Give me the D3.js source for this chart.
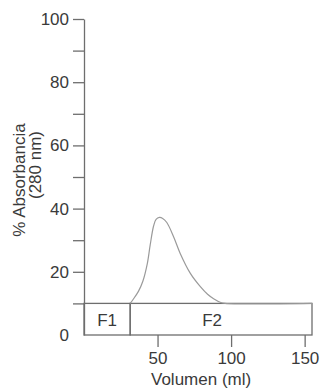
<!DOCTYPE html>
<html>
<head>
<meta charset="utf-8">
<script src="https://cdn.jsdelivr.net/npm/d3@7"></script>
<style>
  body { margin: 0; background: #fff; }
  svg text { font-family: "Liberation Sans", Arial, sans-serif; fill: #3a3a3a; }
</style>
</head>
<body>
<script>
// Elution profile data
var volumen = [31.4, 33, 37, 40, 43, 45, 47.3, 49, 51.3, 53.5, 56.3, 60.9, 65.4, 72.3, 79.1, 84, 88.1, 93, 96, 155];
var absorbancia = [10, 11, 13.8, 17, 22.5, 28.5, 34.5, 36.6, 37.2, 36.9, 35.6, 31.1, 25.8, 19.5, 15.3, 12.9, 11.5, 10.3, 10, 10];

// Fractions (boxes at the bottom)
var fracciones = ["F1", "F2"];
var fracInicio = [0, 31.4];
var fracFin = [31.4, 155];
var fracAltura = 10;

// Axis ticks
var xTicks = [50, 100, 150];
var yTicks = [0, 10, 20, 30, 40, 50, 60, 70, 80, 90, 100];

var width = 320, height = 389;
var plotLeft = 84, plotRight = 312, plotTop = 19, plotBottom = 335;
var axisColor = "#6e6e6e";

var svg = d3.select("body").append("svg")
    .attr("width", width)
    .attr("height", height);

var x = d3.scaleLinear().domain([0, 155]).range([plotLeft, plotRight]);
var y = d3.scaleLinear().domain([0, 100]).range([plotBottom, plotTop]);

// Y axis
var yAxis = d3.axisLeft(y)
    .tickValues(yTicks)
    .tickSize(11)
    .tickSizeOuter(0)
    .tickPadding(4)
    .tickFormat(function(d) { return d % 20 === 0 ? d : ""; });
var gy = svg.append("g")
    .attr("transform", "translate(" + plotLeft + ",0)")
    .call(yAxis);
gy.selectAll("path, line").attr("stroke", axisColor).attr("stroke-width", 1.3);
gy.selectAll(".tick").filter(function(d) { return d === 0; }).select("line").remove();
gy.selectAll("text").attr("font-size", "17px").style("fill", "#3a3a3a");

// X axis ticks (baseline is drawn by the boxes)
var xAxis = d3.axisBottom(x)
    .tickValues(xTicks)
    .tickSize(12)
    .tickSizeOuter(0)
    .tickPadding(5);
var gx = svg.append("g")
    .attr("transform", "translate(0," + plotBottom + ")")
    .call(xAxis);
gx.select(".domain").remove();
gx.selectAll("line").attr("stroke", axisColor).attr("stroke-width", 1.3);
gx.selectAll("text").attr("font-size", "17px").style("fill", "#3a3a3a");

// Fraction boxes
svg.selectAll("rect.frac")
    .data(fracciones)
    .enter().append("rect")
    .attr("class", "frac")
    .attr("x", function(d, i) { return x(fracInicio[i]); })
    .attr("y", y(fracAltura))
    .attr("width", function(d, i) { return x(fracFin[i]) - x(fracInicio[i]); })
    .attr("height", y(0) - y(fracAltura))
    .attr("fill", "none")
    .attr("stroke", axisColor)
    .attr("stroke-width", 1.3);

svg.selectAll("text.frac")
    .data(fracciones)
    .enter().append("text")
    .attr("class", "frac")
    .attr("x", function(d, i) { return (x(fracInicio[i]) + x(fracFin[i])) / 2 - (i === 1 ? 9 : 0); })
    .attr("y", 326)
    .attr("font-size", "17px")
    .attr("text-anchor", "middle")
    .text(function(d) { return d; });

// Elution curve
var line = d3.line()
    .x(function(d, i) { return x(volumen[i]); })
    .y(function(d, i) { return y(absorbancia[i]); })
    .curve(d3.curveCatmullRom.alpha(0.5));
svg.append("path")
    .datum(volumen)
    .attr("d", line)
    .attr("fill", "none")
    .attr("stroke", "#9a9a9a")
    .attr("stroke-width", 1.2);

// Axis labels
svg.append("text")
    .attr("x", 151)
    .attr("y", 385)
    .attr("font-size", "17px")
    .text("Volumen (ml)");

svg.append("text")
    .attr("transform", "translate(25,180) rotate(-90)")
    .attr("font-size", "17px")
    .attr("text-anchor", "middle")
    .text("% Absorbancia");
svg.append("text")
    .attr("transform", "translate(41,165) rotate(-90)")
    .attr("font-size", "17px")
    .attr("text-anchor", "middle")
    .text("(280 nm)");
</script>
</body>
</html>
